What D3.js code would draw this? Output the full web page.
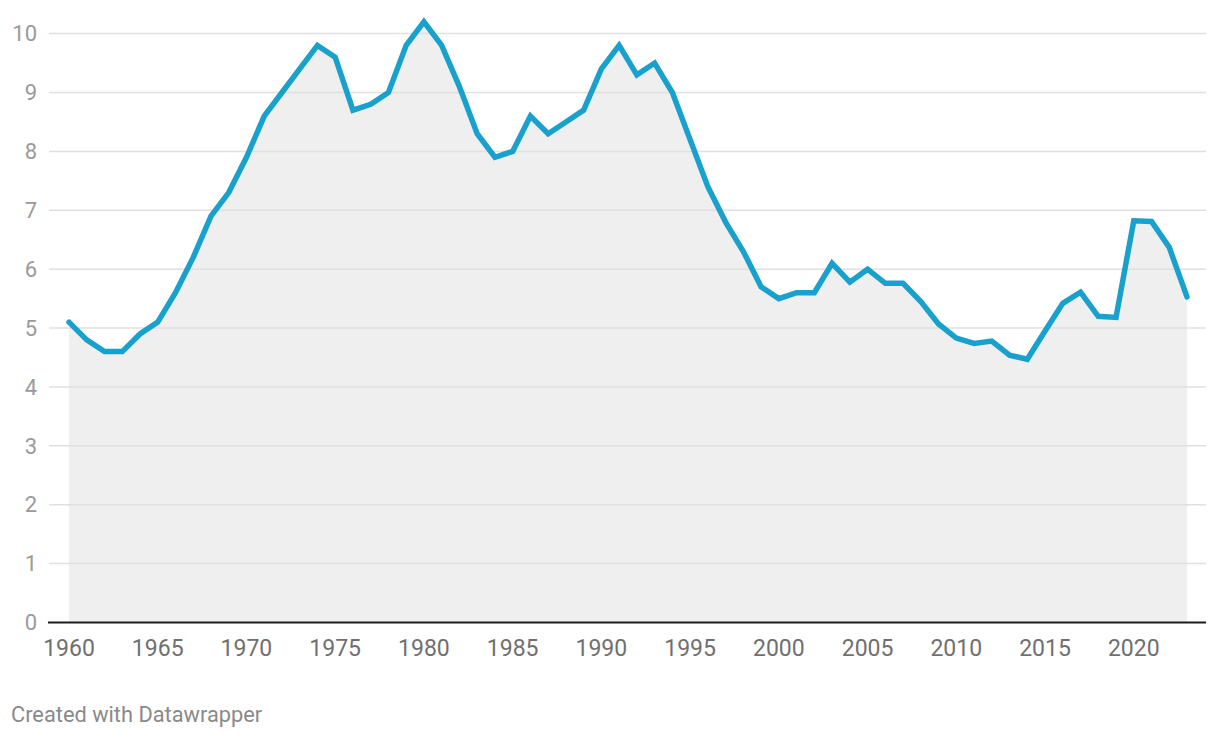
<!DOCTYPE html>
<html>
<head>
<meta charset="utf-8">
<script src="https://cdn.jsdelivr.net/npm/d3@7"></script>
<style>
  html, body { margin: 0; padding: 0; background: #fff; }
  svg { display: block; font-family: Roboto, "Noto Sans", sans-serif; }
</style>
</head>
<body>
<svg id="chart" width="1220" height="738"></svg>
<script>
const years = d3.range(1960, 2024);
const values = [
  5.1, 4.8, 4.6, 4.6, 4.9, 5.1, 5.6, 6.2, 6.9, 7.3,
  7.9, 8.6, 9.0, 9.4, 9.8, 9.6, 8.7, 8.8, 9.0, 9.8,
  10.2, 9.8, 9.1, 8.3, 7.9, 8.0, 8.6, 8.3, 8.5, 8.7,
  9.4, 9.8, 9.3, 9.5, 9.0, 8.2, 7.4, 6.8, 6.3, 5.7,
  5.5, 5.6, 5.6, 6.1, 5.78, 6.0, 5.76, 5.76, 5.45, 5.07,
  4.83, 4.74, 4.78, 4.54, 4.47, 4.95, 5.42, 5.61, 5.2, 5.18,
  6.82, 6.81, 6.37, 5.53
];
const yTicks = [0, 1, 2, 3, 4, 5, 6, 7, 8, 9, 10];
const xTicks = [1960, 1965, 1970, 1975, 1980, 1985, 1990, 1995, 2000, 2005, 2010, 2015, 2020];
const footer = "Created with Datawrapper";

const data = years.map((y, i) => ({ year: y, value: values[i] }));

const svg = d3.select("#chart");
const x = d3.scaleLinear().domain([1960, 2023]).range([69, 1187]);
const y = d3.scaleLinear().domain([0, 10]).range([622.5, 33.6]);
const gridLeft = 49, gridRight = 1206;

// area
svg.append("path").datum(data)
  .attr("fill", "#efefef")
  .attr("d", d3.area().x(d => x(d.year)).y0(y(0)).y1(d => y(d.value)));

// gridlines
svg.append("g").selectAll("line").data(yTicks.filter(d => d !== 0)).join("line")
  .attr("x1", gridLeft).attr("x2", gridRight)
  .attr("y1", d => y(d)).attr("y2", d => y(d))
  .attr("stroke", "#e0e0e0").attr("stroke-width", 1.5);

// baseline
svg.append("line")
  .attr("x1", gridLeft - 1).attr("x2", gridRight)
  .attr("y1", y(0)).attr("y2", y(0))
  .attr("stroke", "#1d1d1d").attr("stroke-width", 2);

// line
svg.append("path").datum(data)
  .attr("fill", "none")
  .attr("stroke", "#18a1cd")
  .attr("stroke-width", 5.5)
  .attr("stroke-linejoin", "miter")
  .attr("stroke-linecap", "round")
  .attr("d", d3.line().x(d => x(d.year)).y(d => y(d.value)));

// y tick labels
svg.append("g").selectAll("text").data(yTicks).join("text")
  .attr("x", 37).attr("y", d => y(d))
  .attr("dy", "0.35em")
  .attr("text-anchor", "end")
  .attr("fill", "#9a9a9a")
  .attr("font-size", 22)
  .text(d => d);

// x tick labels
svg.append("g").selectAll("text").data(xTicks).join("text")
  .attr("x", d => x(d)).attr("y", 656)
  .attr("text-anchor", "middle")
  .attr("fill", "#707070")
  .attr("font-size", 23)
  .text(d => d);

// footer
svg.append("text")
  .attr("x", 11).attr("y", 722)
  .attr("fill", "#8a8a8a")
  .attr("font-size", 21.8)
  .text(footer);
</script>
</body>
</html>
